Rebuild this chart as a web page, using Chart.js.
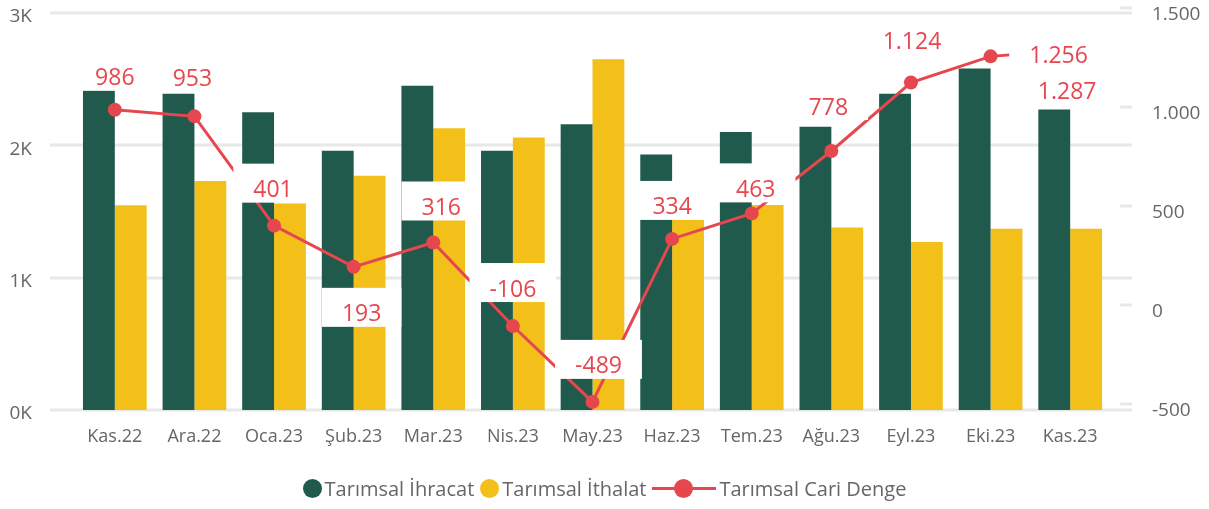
<!DOCTYPE html>
<html lang="tr">
<head>
<meta charset="utf-8">
<script src="https://cdn.jsdelivr.net/npm/chart.js@4.4.0/dist/chart.umd.min.js"></script>
<style>
html, body { margin: 0; padding: 0; background: #fff; }
#wrap { position: relative; width: 1209px; height: 509px; }
#legend { position: absolute; left: 0; top: 475px; width: 1209px; display: flex; justify-content: center; align-items: center;
  font: 20px "Open Sans", "Noto Sans", sans-serif; color: #666; white-space: nowrap; }
#legend .it { display: flex; align-items: center; margin: 0 3px; }
#legend .dot { width: 19px; height: 19px; border-radius: 50%; margin-right: 3px; }
#legend .ln { position: relative; width: 64px; height: 19px; margin-right: 3px; }
#legend .ln:before { content: ""; position: absolute; left: 0; right: 0; top: 8px; height: 3px; background: #E6474F; }
#legend .ln:after { content: ""; position: absolute; left: 22px; top: 0; width: 19px; height: 19px; border-radius: 50%; background: #E6474F; }
</style>
</head>
<body>
<div id="wrap">
  <canvas id="chart"></canvas>
  <div id="legend"></div>
</div>
<script>
const months = ['Kas.22', 'Ara.22', 'Oca.23', 'Şub.23', 'Mar.23', 'Nis.23', 'May.23', 'Haz.23', 'Tem.23', 'Ağu.23', 'Eyl.23', 'Eki.23', 'Kas.23'];
const exports = [2430, 2390, 2250, 1960, 2450, 1960, 2160, 1930, 2100, 2140, 2390, 2580, 2270];
const imports = [1548, 1730, 1560, 1770, 2130, 2060, 2650, 1460, 1550, 1380, 1270, 1370, 1370];
const balance = [986, 953, 401, 193, 316, -106, -489, 334, 463, 778, 1124, 1256, 1287];
const leftTicks = [0, 1000, 2000, 3000];
const rightTicks = [-500, 0, 500, 1000, 1500];

// where each balance label sits relative to its point
const labelShift = [[0, -31], [-2, -37], [-1, -35], [8, 48], [8, -34], [0, -36], [6, -35], [0, -31], [4, -23], [-3, -43], [1, -40], [68, 0], [-3, 42]];

const GREEN = '#1F5A4C', YELLOW = '#F2C018', RED = '#E6474F';
const FONT = '"Open Sans", "Noto Sans", sans-serif';

function fmt(v) {
  const s = Math.abs(v).toString().replace(/\B(?=(\d{3})+(?!\d))/g, '.');
  return (v < 0 ? '-' : '') + s;
}

const extras = {
  id: 'extras',
  beforeDatasetsDraw(chart) {
    const ctx = chart.ctx;
    ctx.save();
    ctx.strokeStyle = '#E8E8E8';
    ctx.lineWidth = 3;
    chart.scales.y.ticks.forEach(t => {
      const py = Math.round(chart.scales.y.getPixelForValue(t.value));
      ctx.beginPath(); ctx.moveTo(50, py); ctx.lineTo(1132, py); ctx.stroke();
    });
    chart.scales.y1.ticks.forEach(t => {
      const py = Math.round(chart.scales.y1.getPixelForValue(t.value));
      ctx.beginPath(); ctx.moveTo(1120, py); ctx.lineTo(1132, py); ctx.stroke();
    });
    ctx.restore();
  },
  afterDatasetsDraw(chart) {
    const ctx = chart.ctx;
    const pts = chart.getDatasetMeta(2).data;
    ctx.save();
    ctx.font = '23px ' + FONT;
    ctx.textAlign = 'center';
    ctx.textBaseline = 'middle';
    pts.forEach((p, i) => {
      const txt = fmt(balance[i]);
      const tx = p.x + labelShift[i][0], ty = p.y + labelShift[i][1];
      const tw = ctx.measureText(txt).width;
      ctx.fillStyle = '#fff';
      ctx.fillRect(tx - tw / 2 - 20, ty - 27, tw + 40, 39);
      ctx.fillStyle = RED;
      ctx.fillText(txt, tx, ty);
    });
    ctx.restore();
  }
};

function sideAxis(s, w) {
  s.width = w;
  s.paddingTop = 9;
  s.paddingBottom = 9;
}

new Chart(document.getElementById('chart'), {
  type: 'bar',
  data: {
    labels: months,
    datasets: [{
      label: 'Tarımsal İhracat',
      data: exports,
      backgroundColor: GREEN,
      yAxisID: 'y',
      order: 1,
      categoryPercentage: 0.8,
      barPercentage: 1.0
    }, {
      label: 'Tarımsal İthalat',
      data: imports,
      backgroundColor: YELLOW,
      yAxisID: 'y',
      order: 1,
      categoryPercentage: 0.8,
      barPercentage: 1.0
    }, {
      type: 'line',
      label: 'Tarımsal Cari Denge',
      data: balance,
      borderColor: RED,
      backgroundColor: RED,
      borderWidth: 3,
      pointRadius: 7,
      pointBorderWidth: 0,
      pointBackgroundColor: RED,
      tension: 0,
      yAxisID: 'y1',
      order: 0
    }]
  },
  options: {
    responsive: true,
    maintainAspectRatio: false,
    animation: false,
    layout: { padding: { top: 13, left: 0, right: 0, bottom: 0 } },
    plugins: { legend: { display: false }, tooltip: { enabled: false } },
    scales: {
      x: {
        grid: { display: false, drawTicks: false },
        border: { display: false },
        ticks: { color: '#666', font: { size: 18, family: FONT }, padding: 16, maxRotation: 0, autoSkip: false },
        afterFit(s) { s.height = 99; }
      },
      y: {
        position: 'left',
        min: 0, max: 3000,
        afterBuildTicks(s) { s.ticks = leftTicks.map(v => ({ value: v })); },
        grid: { display: false, drawTicks: false },
        border: { display: false },
        ticks: { color: '#666', font: { size: 19, family: FONT }, padding: 43, labelOffset: 4, callback: v => (v / 1000) + 'K' },
        afterFit(s) { sideAxis(s, 75); }
      },
      y1: {
        position: 'right',
        min: -530, max: 1475,
        afterBuildTicks(s) { s.ticks = rightTicks.map(v => ({ value: v })); },
        grid: { display: false, drawTicks: false },
        border: { display: false },
        ticks: { color: '#666', font: { size: 19, family: FONT }, padding: 42, labelOffset: 7, callback: v => fmt(v) },
        afterFit(s) { sideAxis(s, 99); }
      }
    }
  },
  plugins: [extras]
});

const legendItems = [['dot', GREEN, 'Tarımsal İhracat'], ['dot', YELLOW, 'Tarımsal İthalat'], ['ln', RED, 'Tarımsal Cari Denge']];
document.getElementById('legend').innerHTML = legendItems.map(it =>
  '<span class="it"><span class="' + it[0] + '" style="background:' + (it[0] === 'dot' ? it[1] : 'transparent') + '"></span>' + it[2] + '</span>'
).join('');
</script>
</body>
</html>
